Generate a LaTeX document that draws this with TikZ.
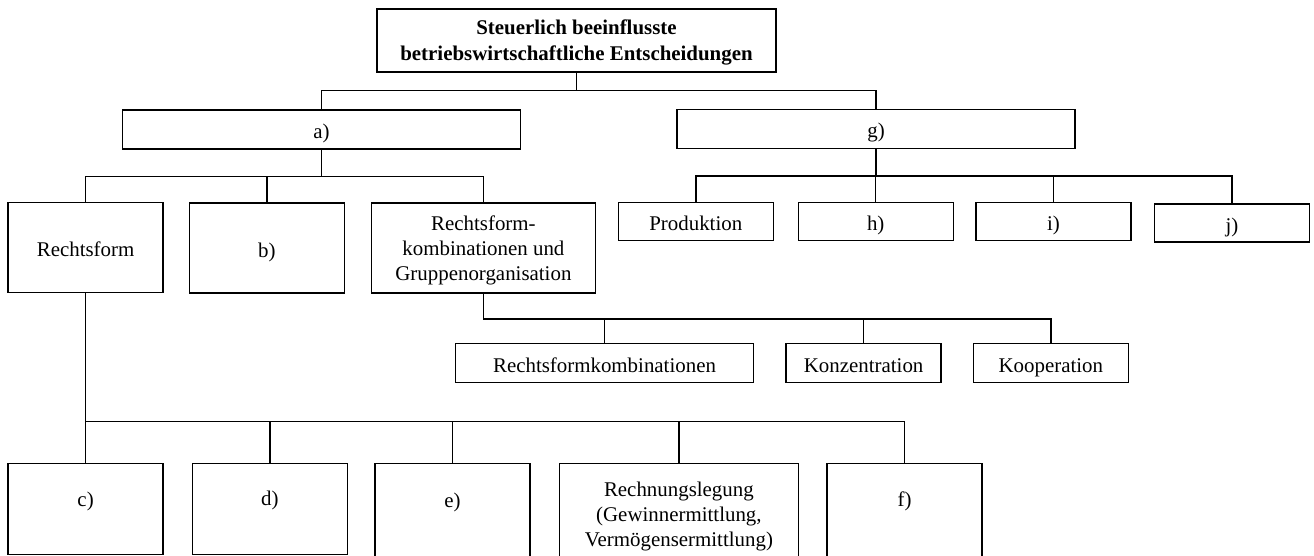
\documentclass[tikz,border=0pt]{standalone}
\usepackage{fontspec}
\setmainfont{Liberation Serif}
\usepackage{tikz}
\usetikzlibrary{positioning}
\tikzset{box/.style={draw,line width=1.4pt,inner sep=0pt,align=center,minimum width=155pt,minimum height=39pt}}
\tikzset{one/.style={box,text height=18pt,text depth=0pt}}
\tikzset{tallbox/.style={box,minimum height=90pt}}

\begin{document}
\begin{tikzpicture}[x=1pt,y=-1pt,line width=1.4pt,font=\fontsize{20.9}{25}\selectfont]
                \useasboundingbox (0,0) rectangle (1314,555);
                % top level
                \node[box,minimum width=399pt,minimum height=63pt,font=\fontsize{20.9}{25.7}\selectfont\bfseries] (top) at (576.5,40.5) {\rule{0pt}{18.5pt}Steuerlich beeinflusste\\betriebswirtschaftliche Entscheidungen};
                \node[one,minimum width=398pt] (a) at (321.5,129.5) {a)};
                \node[one,minimum width=398pt] (g) at (876,128.7) {g)};
                % below a)
                \node[one,tallbox] (rf) at (85.6,247.5) {Rechtsform};
                \node[one,tallbox] (b) at (266.9,248) {b)};
                \node[tallbox,minimum width=224pt] (rkg) at (483.4,248) {\rule{0pt}{20pt}Rechtsform-\\kombinationen und\\Gruppenorganisation};
                % below g)
                \node[one,minimum height=38pt] (prod) at (695.8,221.7) {Produktion};
                \node[one,minimum height=38pt] (h) at (875.7,221.7) {h)};
                \node[one,minimum height=38pt] (i) at (1053.5,221.7) {i)};
                \node[one,minimum height=38pt] (j) at (1232,223) {j)};
                % below Gruppenorganisation
                \node[one,minimum width=298pt] (rfk) at (604.5,363.2) {Rechtsformkombinationen};
                \node[one] (konz) at (863.6,363.2) {Konzentration};
                \node[one] (koop) at (1050.8,363.2) {Kooperation};
                % below Rechtsform
                \node[one,anchor=north,minimum height=91.3pt] (c) at (85.6,462.7) {\raisebox{11.3pt}{c)}};
                \node[one,anchor=north,minimum height=91.3pt] (d) at (269.8,462.7) {\raisebox{12.6pt}{d)}};
                \node[one,anchor=north,minimum height=95pt] (e) at (452.5,462.7) {\raisebox{12.2pt}{e)}};
                \node[box,anchor=north,minimum height=95pt,minimum width=239pt] (rl) at (678.9,462.7) {\rule{0pt}{25.3pt}Rechnungslegung\\(Gewinnermittlung,\\Vermögensermittlung)};
                \node[one,anchor=north,minimum height=95pt] (f) at (904.6,462.7) {\raisebox{13.2pt}{f)}};
                % connectors
                \foreach \kid in {a,g}
                        \draw (top.south) -- ++(0,18) -| (\kid.north);
                \foreach \kid in {rf,b,rkg}
                        \draw (a.south) -- ++(0,26.5) -| (\kid.north);
                \foreach \kid in {prod,h,i,j}
                        \draw (g.south) -- ++(0,27) -| (\kid.north);
                \foreach \kid in {rfk,konz,koop}
                        \draw (rkg.south) -- ++(0,25.3) -| (\kid.north);
                \foreach \kid in {c,d,e,rl,f}
                        \draw (rf.south) -- ++(0,128.4) -| (\kid.north);
            \end{tikzpicture}
\end{document}
